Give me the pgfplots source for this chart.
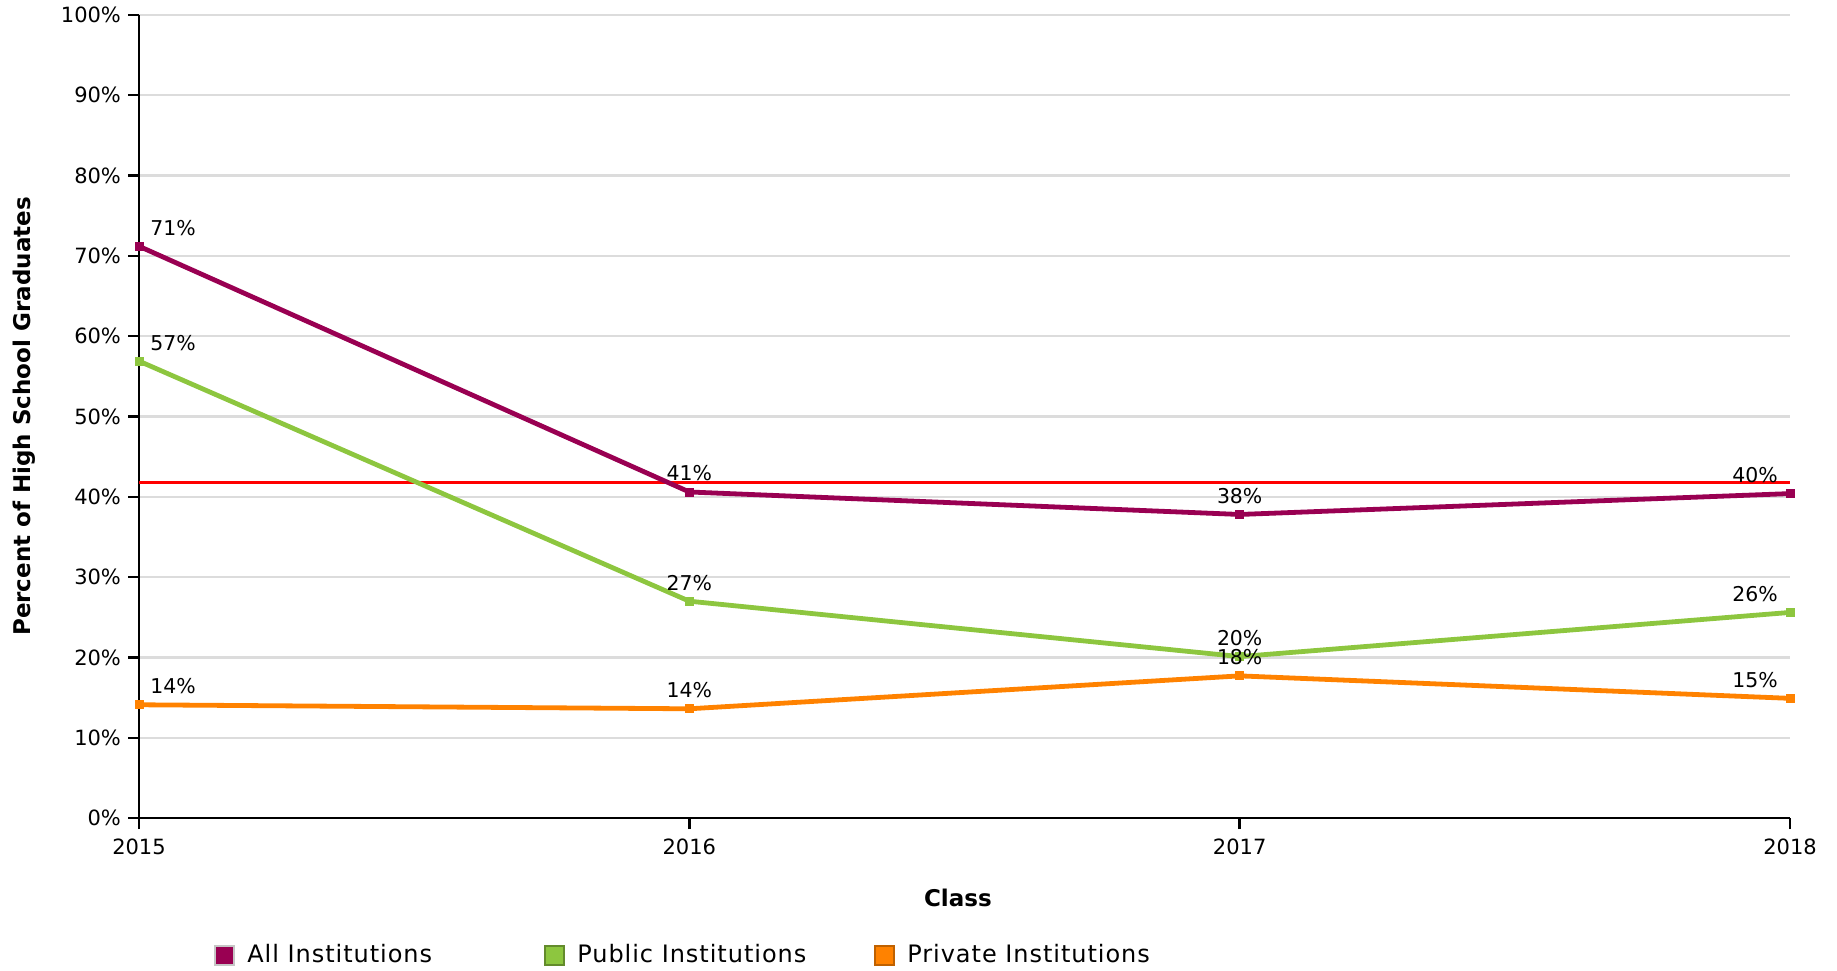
\documentclass[border=0pt]{standalone}
\usepackage{fontspec}
\setmainfont{DejaVu Sans}
\usepackage{pgfplots}
\pgfplotsset{compat=1.18}

\definecolor{allc}{RGB}{153,0,82}
\definecolor{pubc}{RGB}{141,198,63}
\definecolor{privc}{RGB}{255,130,0}
\definecolor{gridc}{RGB}{220,220,220}

\pgfplotsset{
  serie/.style={
    #1, line width=2.4pt, mark=square*, mark size=2pt,
    mark options={line width=0.4pt},
    point meta=y,
    visualization depends on={value \coordindex \as \idx},
    nodes near coords={\pgfmathprintnumber[fixed,precision=0]{\pgfplotspointmeta}\%},
    nodes near coords style={
      black, font=\fontsize{10.2}{12}\selectfont, anchor=base, inner sep=0pt,
      yshift=5.5pt,
      xshift={ifthenelse(\idx==0,17,ifthenelse(\idx==3,-17.5,0))}
    },
  },
  box/.style n args={2}{
    legend image code/.code={\draw[fill=#1, draw=#2, line width=1pt] (0pt,-4.75pt) rectangle (9.5pt,4.75pt);}
  },
}

\begin{document}
\begin{tikzpicture}
\begin{axis}[
  scale only axis, width=825.5pt, height=401.5pt,
  xmin=2015, xmax=2018, ymin=0, ymax=100,
  xtick={2015,2016,2017,2018}, ytick={0,10,...,100},
  axis lines=left, axis line style={-, line width=1.2pt, black},
  tick align=outside, major tick length=5.5pt,
  tick style={line width=1.2pt, black},
  ymajorgrids, grid style={gridc, line width=1.2pt},
  /pgf/number format/assume math mode=true,
  xticklabel style={font=\fontsize{10.5}{12}\selectfont, yshift=-1.5pt, /pgf/number format/1000 sep={}},
  yticklabel={\pgfmathprintnumber{\tick}\%},
  yticklabel style={font=\fontsize{10.5}{12}\selectfont},
  xlabel={Class},
  xlabel style={at={(axis description cs:0.496,-0.0996)}, anchor=center, font=\bfseries\fontsize{11.5}{13}\selectfont},
  ylabel={Percent of High School Graduates},
  ylabel style={at={(axis description cs:-0.0697,0.5)}, anchor=center, font=\bfseries\fontsize{11.5}{13}\selectfont},
  legend columns=3,
  legend cell align=left,
  legend style={at={(axis description cs:0.0454,-0.171)}, anchor=west, draw=none, fill=none,
    inner sep=0pt, column sep=0pt, nodes={inner sep=0pt},
    font=\fontsize{12}{14}\selectfont\addfontfeature{LetterSpace=4}},
]
\addplot[red, line width=1.2pt, forget plot] coordinates {(2015,41.8) (2018,41.8)};

\addplot[serie=allc, box={allc}{gray!45}] coordinates {(2015,71.2) (2016,40.6) (2017,37.8) (2018,40.4)};
\addlegendentry{\hspace{6pt}\makebox[148.5pt][l]{All Institutions}}

\addplot[serie=pubc, box={pubc}{pubc!70!black}] coordinates {(2015,56.9) (2016,27.0) (2017,20.1) (2018,25.6)};
\addlegendentry{\hspace{6pt}\makebox[148.5pt][l]{Public Institutions}}

\addplot[serie=privc, box={privc}{privc!75!black}] coordinates {(2015,14.1) (2016,13.6) (2017,17.7) (2018,14.9)};
\addlegendentry{\hspace{6pt}\makebox[148.5pt][l]{Private Institutions}}
\end{axis}
\pgfresetboundingbox
\path ([shift={(-69.5pt,-76pt)}]current axis.south west) rectangle ([shift={(849pt,409pt)}]current axis.south west);
\end{tikzpicture}
\end{document}
